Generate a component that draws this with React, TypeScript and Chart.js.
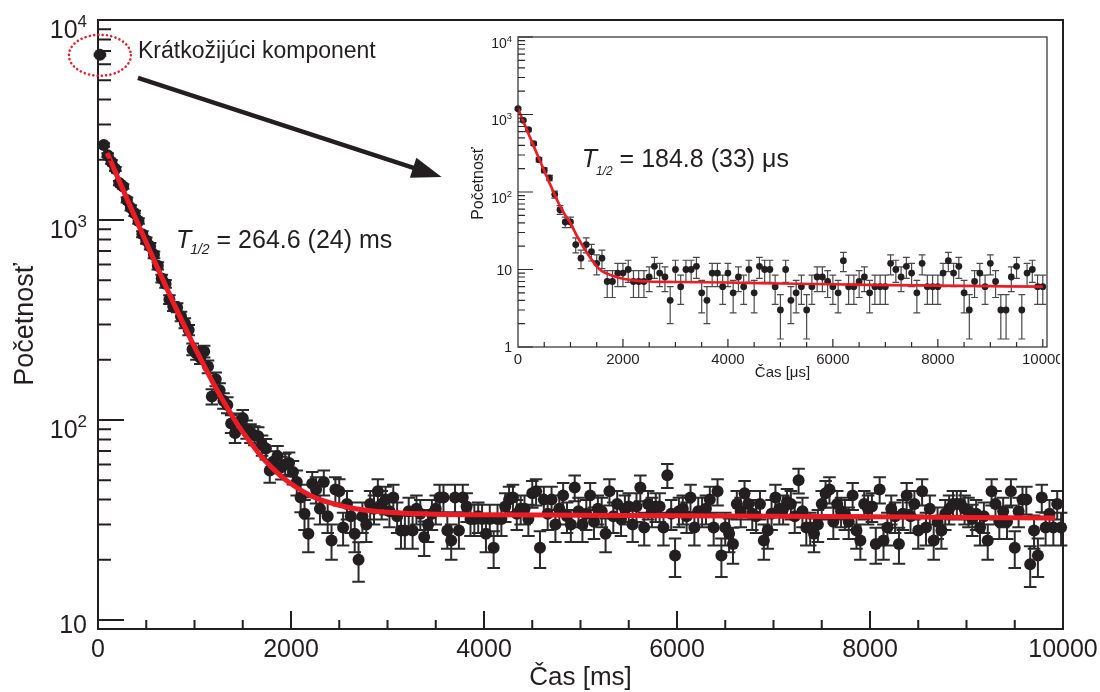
import React, { useEffect, useRef } from "react";
import { Chart, registerables } from "chart.js";

Chart.register(...registerables);

const FONT = "'Liberation Sans', Arial, Helvetica, sans-serif";
const INK = "#231f20";
const RED = "#ed1c24";

// ---------------- main chart (time in ms) ----------------
const mainFirstBinMs = 60;
const mainBinMs = 40;
const mainCounts = [
  2370, 2110, 1950, 1800, 1530, 1470, 1260, 1150, 1080, 990, 850, 790, 740, 670, 590, 510, 480, 400, 370, 365, 330, 305, 282, 226, 215,
  205, 220, 185, 131, 160, 141, 125, 119, 96, 86, 98, 102, 90, 86, 84, 83, 75, 72, 56, 62, 66, 58, 60, 61, 55,
  49, 41, 34, 27, 48, 45, 36, 49, 33, 25, 45, 44, 29, 38, 33, 27, 20, 33, 30, 38, 36, 44, 38, 40, 35,
  41, 33, 28, 28, 35, 28, 36, 34, 26, 30, 34, 36, 41, 41, 28, 25, 41, 28, 41, 37, 32, 32, 33, 32, 27,
  32, 23, 32, 32, 37, 40, 41, 34, 36, 36, 32, 43, 44, 23, 40, 34, 40, 30, 36, 42, 33, 30, 46, 35, 30,
  34, 42, 31, 36, 35, 27, 44, 33, 38, 32, 36, 37, 30, 37, 46, 29, 38, 35, 37, 37, 29, 53, 34, 21, 35,
  36, 33, 41, 29, 35, 35, 36, 40, 29, 44, 21, 29, 27, 24, 38, 35, 43, 38, 34, 33, 38, 25, 28, 34, 41,
  36, 36, 39, 38, 33, 50, 35, 29, 29, 27, 30, 38, 43, 45, 31, 38, 35, 34, 31, 42, 28, 25, 38, 36, 37,
  24, 45, 25, 29, 36, 33, 24, 34, 42, 33, 38, 28, 44, 29, 36, 25, 31, 28, 34, 36, 38, 38, 38, 36, 35,
  32, 34, 29, 33, 25, 44, 38, 31, 35, 31, 44, 23, 35, 40, 40, 19, 28, 21, 41, 29, 34, 29, 38, 29,
];
const shortLivedTimes = [20];
const shortLivedCounts = [6700];
const mainFitTimes = [95, 200, 300, 400, 500, 600, 700, 800, 900, 1000, 1100, 1200, 1300, 1400, 1500, 1600, 1700, 1800, 1900, 2000, 2200, 2400, 2600, 2800, 3000, 3500, 4000, 5000, 6000, 7000, 8000, 9000, 9920];
const mainFitCounts = [2163, 1651, 1278, 992, 771, 601, 470, 369, 292, 232, 187, 151, 124, 103, 87, 75, 65, 58, 52.3, 48, 42, 38.6, 36.5, 35.3, 34.6, 33.8, 33.6, 33.4, 33.2, 33, 32.8, 32.6, 32.4];
const mainXTickValues = [0, 2000, 4000, 6000, 8000, 10000];
const mainXTickLabels = ["0", "2000", "4000", "6000", "8000", "10000"];
const mainYTickValues = [10, 100, 1000, 10000];
const mainYTickBases = ["10", "10", "10", "10"];
const mainYTickExponents = ["", "2", "3", "4"];

// ---------------- inset chart (time in µs) ----------------
const insetBinUs = 100;
const insetCounts = [
  1190, 841, 637, 421, 261, 191, 152, 93, 59, 41, 41, 21, 14, 21, 17, 12, 14, 7, 7, 9, 9, 10, 7, 7, 7,
  8, 11, 9, 8, 4, 10, 6, 10, 10, 11, 5, 4, 9, 9, 6, 9, 5, 8, 6, 10, 5, 11, 10, 10, 6, 3,
  10, 4, 5, 6, 3, 6, 8, 8, 7, 6, 5, 13, 6, 6, 7, 8, 5, 6, 6, 6, 12, 10, 8, 11, 9,
  5, 12, 6, 6, 6, 9, 13, 9, 11, 5, 3, 7, 9, 6, 12, 7, 3, 3, 8, 11, 3, 9, 10, 6, 6,
];
const insetFitTimes = [0, 100, 200, 300, 400, 500, 600, 700, 800, 900, 1000, 1100, 1200, 1300, 1400, 1500, 1600, 1800, 2000, 2200, 2500, 3000, 4000, 5000, 6000, 7000, 8000, 9000, 10000];
const insetFitCounts = [1190, 820, 566, 391, 271, 188, 131, 92, 66, 50, 40, 29, 22, 17, 13.5, 11, 9.5, 8.3, 7.6, 7.25, 7.0, 6.9, 6.8, 6.6, 6.45, 6.3, 6.2, 6.1, 6.0];
const insetXTickValues = [0, 2000, 4000, 6000, 8000, 10000];
const insetXTickLabels = ["0", "2000", "4000", "6000", "8000", "10000"];
const insetYTickValues = [1, 10, 100, 1000, 10000];
const insetYTickBases = ["1", "10", "10", "10", "10"];
const insetYTickExponents = ["", "", "2", "3", "4"];

// ---------------- texts ----------------
const mainXTitle = "Čas [ms]";
const mainYTitle = "Početnosť";
const insetXTitle = "Čas [μs]";
const insetYTitle = "Početnosť";
const shortLivedNote = "Krátkožijúci komponent";
const mainHalfLife = " = 264.6 (24) ms";
const insetHalfLife = " = 184.8 (33) μs";

function drawAxes(chart: any, s: any) {
  const { ctx, chartArea: a } = chart;
  const xs = chart.scales.x;
  const ys = chart.scales.y;
  ctx.save();
  ctx.strokeStyle = s.color;
  ctx.lineWidth = s.lineWidth;
  ctx.beginPath();
  for (let v = s.minorStep; v <= xs.max + 1e-6; v += s.minorStep) {
    const px = xs.getPixelForValue(v);
    const len = s.xTickValues.includes(v) ? s.xMajorLen : s.xMinorLen;
    ctx.moveTo(px, a.bottom);
    ctx.lineTo(px, a.bottom - len);
  }
  const lo = Math.floor(Math.log10(ys.min));
  const hi = Math.ceil(Math.log10(ys.max));
  for (let e = lo; e <= hi; e++) {
    for (let m = 1; m <= 9; m++) {
      const v = m * Math.pow(10, e);
      if (v < ys.min * 0.9999 || v > ys.max * 1.0001) continue;
      const py = ys.getPixelForValue(v);
      const len = m === 1 ? s.yMajorLen : s.yMinorLen;
      ctx.moveTo(a.left, py);
      ctx.lineTo(a.left + len, py);
    }
  }
  ctx.stroke();
  ctx.strokeRect(a.left, a.top, a.right - a.left, a.bottom - a.top);

  ctx.fillStyle = INK;
  ctx.textBaseline = "alphabetic";
  ctx.textAlign = "center";
  ctx.font = s.xLabelFont;
  s.xTickValues.forEach((v: number, i: number) => {
    ctx.fillText(s.xTickLabels[i], xs.getPixelForValue(v), a.bottom + s.xLabelDy);
  });
  ctx.textAlign = "right";
  s.yTickValues.forEach((v: number, i: number) => {
    const py = ys.getPixelForValue(v);
    const xr = a.left - s.yLabelGap;
    const exp = s.yExps[i];
    if (exp) {
      ctx.font = s.ySupFont;
      ctx.fillText(exp, xr, py + s.ySupDy);
      const w = ctx.measureText(exp).width;
      ctx.font = s.yBaseFont;
      ctx.fillText(s.yBases[i], xr - w, py + s.yExpBaseDy);
    } else {
      ctx.font = s.yBaseFont;
      ctx.fillText(s.yBases[i], xr, py + s.yPlainDy);
    }
  });
  // axis titles
  ctx.textAlign = "center";
  ctx.font = s.xTitleFont;
  ctx.fillText(s.xTitle, (a.left + a.right) / 2, a.bottom + s.xTitleDy);
  ctx.save();
  ctx.translate(a.left - s.yTitleDx, a.top + s.yTitleDy);
  ctx.rotate(-Math.PI / 2);
  ctx.font = s.yTitleFont;
  ctx.fillText(s.yTitle, 0, 0);
  ctx.restore();
  ctx.restore();
}

function drawErrorBars(chart: any) {
  const { ctx } = chart;
  const xs = chart.scales.x;
  const ys = chart.scales.y;
  chart.data.datasets.forEach((ds: any) => {
    if (!ds.errorBars) return;
    const eb = ds.errorBars;
    ctx.save();
    ctx.strokeStyle = eb.color;
    ctx.lineWidth = eb.width;
    ctx.beginPath();
    ds.data.forEach((p: any) => {
      const err = Math.sqrt(p.y);
      const px = xs.getPixelForValue(p.x);
      const top = ys.getPixelForValue(p.y + err);
      const bot = ys.getPixelForValue(Math.max(p.y - err, ys.min));
      ctx.moveTo(px, top);
      ctx.lineTo(px, bot);
      ctx.moveTo(px - eb.cap, top);
      ctx.lineTo(px + eb.cap, top);
      if (p.y - err > ys.min) {
        ctx.moveTo(px - eb.cap, bot);
        ctx.lineTo(px + eb.cap, bot);
      }
    });
    ctx.stroke();
    ctx.restore();
  });
}

function drawHalfLife(ctx: any, x: number, y: number, size: number, subSize: number, subDy: number, rest: string) {
  ctx.save();
  ctx.fillStyle = INK;
  ctx.textAlign = "left";
  ctx.textBaseline = "alphabetic";
  ctx.font = `italic ${size}px ${FONT}`;
  ctx.fillText("T", x, y);
  let cx = x + ctx.measureText("T").width - 1;
  ctx.font = `italic ${subSize}px ${FONT}`;
  ctx.fillText("1/2", cx, y + subDy);
  cx += ctx.measureText("1/2").width;
  ctx.font = `${size}px ${FONT}`;
  ctx.fillText(rest, cx, y);
  ctx.restore();
}

const mainDecor = {
  id: "mainDecor",
  beforeDatasetsDraw(chart: any) {
    drawErrorBars(chart);
  },
  afterDatasetsDraw(chart: any) {
    const { ctx } = chart;
    const xs = chart.scales.x;
    const ys = chart.scales.y;
    drawAxes(chart, {
      color: INK, lineWidth: 2, minorStep: 500,
      xMajorLen: 18, xMinorLen: 9, yMajorLen: 26, yMinorLen: 13,
      xTickValues: mainXTickValues, xTickLabels: mainXTickLabels,
      xLabelFont: `25px ${FONT}`, xLabelDy: 28,
      yTickValues: mainYTickValues, yBases: mainYTickBases, yExps: mainYTickExponents,
      yLabelGap: 11, yBaseFont: `25px ${FONT}`, ySupFont: `17px ${FONT}`,
      ySupDy: 7, yExpBaseDy: 17.8, yPlainDy: 12.5,
      xTitle: mainXTitle, xTitleFont: `26px ${FONT}`, xTitleDy: 56,
      yTitle: mainYTitle, yTitleFont: `27px ${FONT}`, yTitleDx: 65, yTitleDy: 304.5,
    });
    // short-lived component marker
    const cx = xs.getPixelForValue(shortLivedTimes[0]);
    const cy = ys.getPixelForValue(shortLivedCounts[0]);
    ctx.save();
    ctx.strokeStyle = RED;
    ctx.lineWidth = 2.6;
    ctx.lineCap = "round";
    ctx.setLineDash([0.01, 4.3]);
    ctx.beginPath();
    ctx.ellipse(cx, cy + 0.5, 31, 20.5, 0, 0, Math.PI * 2);
    ctx.stroke();
    ctx.restore();
    // arrow
    const x0 = xs.getPixelForValue(414), y0 = ys.getPixelForValue(5130);
    const x1 = xs.getPixelForValue(3561), y1 = ys.getPixelForValue(1641);
    const ang = Math.atan2(y1 - y0, x1 - x0);
    const headLen = 30, headHalf = 10.5;
    const bx = x1 - headLen * Math.cos(ang), by = y1 - headLen * Math.sin(ang);
    ctx.save();
    ctx.strokeStyle = INK;
    ctx.fillStyle = INK;
    ctx.lineWidth = 4.5;
    ctx.beginPath();
    ctx.moveTo(x0, y0);
    ctx.lineTo(bx + 2 * Math.cos(ang), by + 2 * Math.sin(ang));
    ctx.stroke();
    ctx.beginPath();
    ctx.moveTo(x1, y1);
    ctx.lineTo(bx + headHalf * Math.sin(ang), by - headHalf * Math.cos(ang));
    ctx.lineTo(bx - headHalf * Math.sin(ang), by + headHalf * Math.cos(ang));
    ctx.closePath();
    ctx.fill();
    ctx.restore();
    // texts
    ctx.save();
    ctx.fillStyle = INK;
    ctx.textAlign = "left";
    ctx.textBaseline = "alphabetic";
    ctx.font = `23px ${FONT}`;
    ctx.fillText(shortLivedNote, xs.getPixelForValue(414), ys.getPixelForValue(6440));
    ctx.restore();
    drawHalfLife(ctx, xs.getPixelForValue(807), ys.getPixelForValue(724), 25, 14, 6, mainHalfLife);
  },
};

const insetDecor = {
  id: "insetDecor",
  beforeDatasetsDraw(chart: any) {
    drawErrorBars(chart);
  },
  afterDatasetsDraw(chart: any) {
    const { ctx } = chart;
    const xs = chart.scales.x;
    const ys = chart.scales.y;
    drawAxes(chart, {
      color: "#2a2a2a", lineWidth: 1.2, minorStep: 500,
      xMajorLen: 8, xMinorLen: 5, yMajorLen: 15, yMinorLen: 7,
      xTickValues: insetXTickValues, xTickLabels: insetXTickLabels,
      xLabelFont: `15px ${FONT}`, xLabelDy: 16.5,
      yTickValues: insetYTickValues, yBases: insetYTickBases, yExps: insetYTickExponents,
      yLabelGap: 6, yBaseFont: `14px ${FONT}`, ySupFont: `9.5px ${FONT}`,
      ySupDy: 4.5, yExpBaseDy: 10.5, yPlainDy: 5,
      xTitle: insetXTitle, xTitleFont: `15px ${FONT}`, xTitleDy: 30,
      yTitle: insetYTitle, yTitleFont: `16px ${FONT}`, yTitleDx: 35, yTitleDy: 146.5,
    });
    drawHalfLife(ctx, xs.getPixelForValue(1214), ys.getPixelForValue(210), 25, 12, 8, insetHalfLife);
  },
};

function mainConfig(): any {
  return {
    type: "scatter",
    data: {
      datasets: [
        {
          data: mainFitTimes.map((t, i) => ({ x: t, y: mainFitCounts[i] })),
          showLine: true,
          borderColor: RED,
          borderWidth: 5,
          pointRadius: 0,
          cubicInterpolationMode: "monotone",
          order: 0,
        },
        {
          data: mainCounts.map((c, i) => ({ x: mainFirstBinMs + i * mainBinMs, y: c })),
          pointRadius: 6,
          pointBackgroundColor: INK,
          pointBorderWidth: 0,
          clip: false,
          order: 1,
          errorBars: { color: "#2b2b2b", width: 2, cap: 6.3 },
        },
        {
          data: shortLivedTimes.map((t, i) => ({ x: t, y: shortLivedCounts[i] })),
          pointRadius: 6,
          pointBackgroundColor: INK,
          pointBorderWidth: 0,
          clip: false,
          order: 1,
          errorBars: { color: "#2b2b2b", width: 2, cap: 6.3 },
        },
      ],
    },
    options: {
      responsive: false,
      animation: false,
      devicePixelRatio: 1,
      events: [],
      layout: { padding: { left: 98, right: 37, top: 20, bottom: 63 } },
      scales: {
        x: { type: "linear", min: 0, max: 10000, display: false },
        y: { type: "logarithmic", min: 9.02, max: 10000, display: false },
      },
      plugins: { legend: { display: false }, tooltip: { enabled: false } },
    },
    plugins: [mainDecor],
  };
}

function insetConfig(): any {
  return {
    type: "scatter",
    data: {
      datasets: [
        {
          data: insetFitTimes.map((t, i) => ({ x: t, y: insetFitCounts[i] })),
          showLine: true,
          borderColor: RED,
          borderWidth: 2.7,
          pointRadius: 0,
          cubicInterpolationMode: "monotone",
          order: 0,
        },
        {
          data: insetCounts.map((c, i) => ({ x: i * insetBinUs, y: c })),
          pointRadius: 3.4,
          pointBackgroundColor: INK,
          pointBorderWidth: 0,
          clip: false,
          order: 1,
          errorBars: { color: "#4a4a4a", width: 1.2, cap: 3.4 },
        },
      ],
    },
    options: {
      responsive: false,
      animation: false,
      devicePixelRatio: 1,
      events: [],
      layout: { padding: { left: 78, right: 13, top: 15, bottom: 53 } },
      scales: {
        x: { type: "linear", min: 0, max: 10080, display: false },
        y: { type: "logarithmic", min: 1, max: 10000, display: false },
      },
      plugins: { legend: { display: false }, tooltip: { enabled: false } },
    },
    plugins: [insetDecor],
  };
}

export default function App() {
  const mainRef = useRef<HTMLCanvasElement | null>(null);
  const insetRef = useRef<HTMLCanvasElement | null>(null);

  useEffect(() => {
    const main = new Chart(mainRef.current as HTMLCanvasElement, mainConfig());
    const inset = new Chart(insetRef.current as HTMLCanvasElement, insetConfig());
    return () => {
      main.destroy();
      inset.destroy();
    };
  }, []);

  return (
    <div style={{ position: "absolute", left: 0, top: 0, width: 1100, height: 692, background: "#ffffff" }}>
      <canvas ref={mainRef} width={1100} height={692} style={{ position: "absolute", left: 0, top: 0 }} />
      <canvas ref={insetRef} width={620} height={378} style={{ position: "absolute", left: 440, top: 22 }} />
    </div>
  );
}
